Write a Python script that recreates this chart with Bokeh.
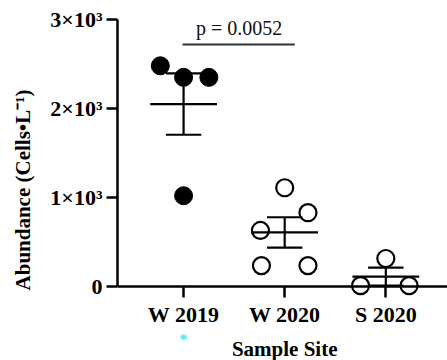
import numpy as np
from bokeh.plotting import figure
from bokeh.models import FixedTicker, Label
from bokeh.embed import file_html
from bokeh.resources import INLINE

# ---- data ----
sites = ["W 2019", "W 2020", "S 2020"]
w2019 = [2480, 2350, 2350, 1020]
w2020 = [1110, 830, 630, 235, 235]
s2020 = [10, 315, 10]
w2019_dx = [-0.23, 0.0, 0.25, 0.0]
w2020_dx = [0.0, 0.23, -0.24, -0.23, 0.23]
s2020_dx = [-0.25, 0.0, 0.23]
yticks = [0, 1000, 2000, 3000]
ytick_labels = ["0", "1×10³", "2×10³", "3×10³"]
p_text = "p = 0.0052"
p_level = 2720

FONT = "Liberation Serif"

p = figure(width=447, height=360, x_range=(0.3465, 3.61), y_range=(-831, 3000),
           output_backend="svg", toolbar_location=None,
           min_border_left=117, min_border_right=0, min_border_top=19,
           min_border_bottom=0)
p.outline_line_color = None
p.xgrid.visible = False
p.ygrid.visible = False
p.background_fill_color = "white"

groups = [w2019, w2020, s2020]
offsets = [w2019_dx, w2020_dx, s2020_dx]

# points
for gi, (vals, dx) in enumerate(zip(groups, offsets)):
    xs = [gi + 1 + d for d in dx]
    if gi == 0:
        p.scatter(xs, vals, size=18, marker="circle", fill_color="black",
                  line_color="black", line_width=1)
    else:
        p.scatter(xs, vals, size=17, marker="circle", fill_color=None,
                  line_color="black", line_width=2.2)

# mean +- SEM
means = [float(np.mean(g)) for g in groups]
sems = [float(np.std(g, ddof=1) / np.sqrt(len(g))) for g in groups]
cx = [1, 2, 3]
mw, cw = 0.33, 0.175
lo = [m - s for m, s in zip(means, sems)]
hi = [m + s for m, s in zip(means, sems)]
p.segment(x0=[c - mw for c in cx], x1=[c + mw for c in cx], y0=means, y1=means,
          line_color="black", line_width=2.2)
p.segment(x0=cx, x1=cx, y0=lo, y1=hi, line_color="black", line_width=2.2)
p.segment(x0=[c - cw for c in cx], x1=[c + cw for c in cx], y0=lo, y1=lo,
          line_color="black", line_width=2.2)
p.segment(x0=[c - cw for c in cx], x1=[c + cw for c in cx], y0=hi, y1=hi,
          line_color="black", line_width=2.2)

# significance bar
p.segment(x0=[0.99], x1=[2.1], y0=[p_level], y1=[p_level], line_color="#333333", line_width=2)
p.add_layout(Label(x=1.55, y=p_level, y_offset=5, text=p_text, text_align="center",
                   text_baseline="bottom", text_font=FONT, text_font_size="20px",
                   text_color="#111111"))

# axes
xa = p.xaxis[0]
xa.fixed_location = 0
xa.ticker = FixedTicker(ticks=[1, 2, 3])
xa.major_label_overrides = {i + 1: s for i, s in enumerate(sites)}
xa.axis_label = None
ya = p.yaxis[0]
ya.bounds = (0, 3000)
ya.ticker = FixedTicker(ticks=yticks)
ya.major_label_overrides = {t: l for t, l in zip(yticks, ytick_labels)}
ya.axis_label = "Abundance (Cells•L⁻¹)"
for ax in (xa, ya):
    ax.axis_line_width = 2.5
    ax.axis_line_color = "black"
    ax.major_tick_line_width = 2.5
    ax.major_tick_line_color = "black"
    ax.major_tick_in = 0
    ax.major_tick_out = 11
    ax.minor_tick_line_color = None
    ax.major_label_text_font = FONT
    ax.major_label_text_font_style = "bold"
    ax.major_label_text_font_size = "22px"
    ax.major_label_text_color = "black"
    ax.axis_label_text_font = FONT
    ax.axis_label_text_font_style = "bold"
    ax.axis_label_text_font_size = "21px"
    ax.axis_label_text_color = "black"
xa.major_label_standoff = 4
ya.major_label_standoff = 4
ya.axis_label_standoff = 12

p.add_layout(Label(x=2, y=-700, text="Sample Site", text_align="center",
                   text_baseline="middle", text_font=FONT, text_font_style="bold",
                   text_font_size="21px", text_color="black"))
p.add_layout(Label(x=1, y=-600, text="*", text_align="center",
                   text_baseline="middle", text_font=FONT, text_font_style="bold",
                   text_font_size="17px", text_color="#55e6f0"))

open("out.html", "w").write(file_html(p, INLINE))
